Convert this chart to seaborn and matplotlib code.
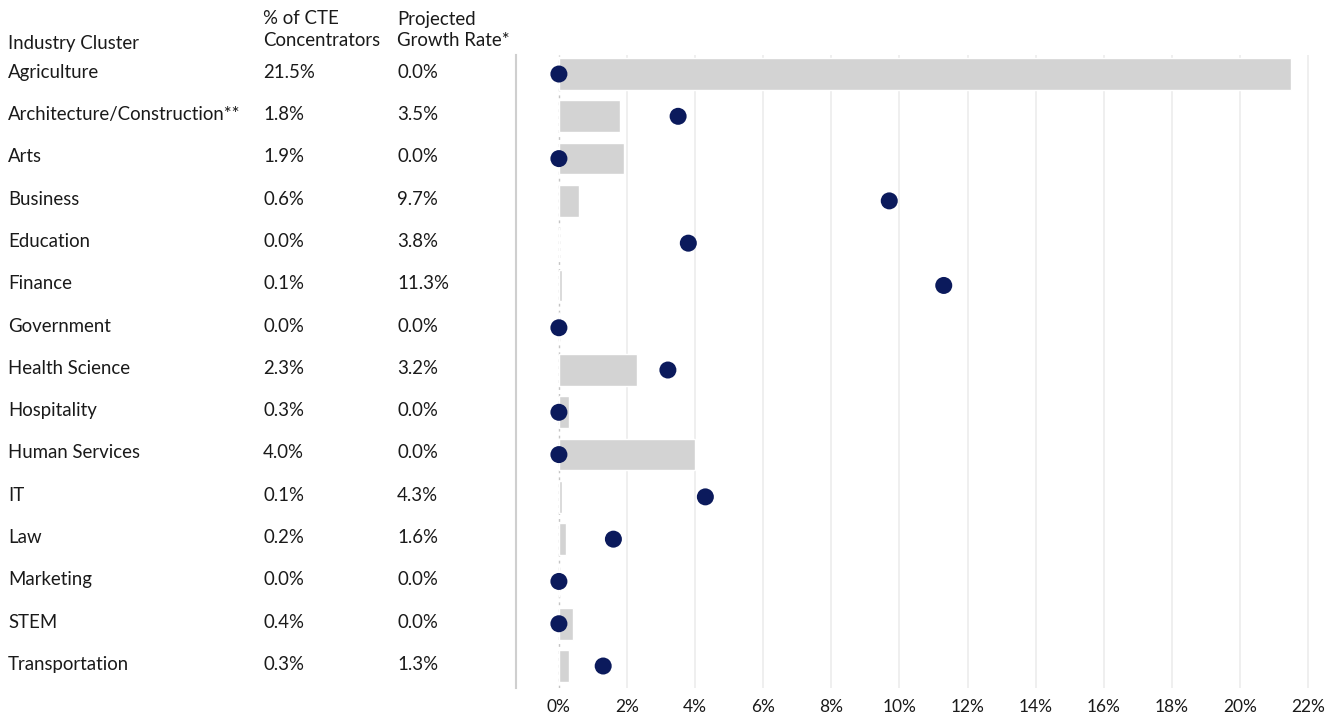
import matplotlib
matplotlib.use("Agg")
import matplotlib.pyplot as plt
import matplotlib.transforms as mtransforms
import seaborn as sns
import pandas as pd

clusters = ["Agriculture", "Architecture/Construction**", "Arts", "Business", "Education",
            "Finance", "Government", "Health Science", "Hospitality", "Human Services",
            "IT", "Law", "Marketing", "STEM", "Transportation"]
cte_share = [21.5, 1.8, 1.9, 0.6, 0.0, 0.1, 0.0, 2.3, 0.3, 4.0, 0.1, 0.2, 0.0, 0.4, 0.3]
growth_rate = [0.0, 3.5, 0.0, 9.7, 3.8, 11.3, 0.0, 3.2, 0.0, 0.0, 4.3, 1.6, 0.0, 0.0, 1.3]
x_ticks = [0, 2, 4, 6, 8, 10, 12, 14, 16, 18, 20, 22]

df = pd.DataFrame({"cluster": clusters, "cte": cte_share, "growth": growth_rate})

sns.set_theme(style="white")
plt.rcParams["font.family"] = ["Lato", "DejaVu Sans"]

W, H = 1332, 717
fig = plt.figure(figsize=(W / 100, H / 100), dpi=100)
ax = fig.add_axes([516 / W, (H - 688) / H, (1332 - 516) / W, (688 - 55) / H])

# light vertical gridlines behind the marks
for t in x_ticks[1:]:
    ax.axvline(t, color="#ececec", lw=1.2, zorder=0)
ax.axvline(0, color="#c4c4c4", lw=1.0, ls=(0, (2, 3)), zorder=0.5)

sns.barplot(data=df, x="cte", y="cluster", orient="h", color="#d3d3d3",
            width=0.75, saturation=1, ax=ax, zorder=1)
sns.scatterplot(data=df, x="growth", y="cluster", color="#0b1a5c", s=150,
                edgecolor="none", ax=ax, zorder=3)

ax.set_xlim(-1.26, 22.7)
ax.set_ylim(14.52, -0.45)
ax.set_xticks(x_ticks)
ax.set_xticklabels([f"{t}%" for t in x_ticks], fontsize=12.5, color="#1a1a1a")
ax.tick_params(axis="x", length=0, pad=8)
ax.set_yticks([])
ax.set_xlabel("")
ax.set_ylabel("")
for side in ["top", "right", "bottom"]:
    ax.spines[side].set_visible(False)
ax.spines["left"].set_color("#cfcfcf")
ax.spines["left"].set_linewidth(1.5)

# table columns to the left of the plot
fs = 13.4
trans = mtransforms.blended_transform_factory(fig.transFigure, ax.transData)
col_x = [8 / W, 263 / W, 397 / W]
for i, (name, c, g) in enumerate(zip(clusters, cte_share, growth_rate)):
    y = i - 0.04
    ax.text(col_x[0], y, name, transform=trans, fontsize=fs, va="center", ha="left",
            color="#1a1a1a", clip_on=False)
    ax.text(col_x[1], y, f"{c:.1f}%", transform=trans, fontsize=fs, va="center", ha="left",
            color="#1a1a1a", clip_on=False)
    ax.text(col_x[2], y, f"{g:.1f}%", transform=trans, fontsize=fs, va="center", ha="left",
            color="#1a1a1a", clip_on=False)

fig.text(8 / W, 1 - 43 / H, "Industry Cluster", fontsize=fs, va="center", ha="left", color="#1a1a1a")
fig.text(263 / W, 1 - 19 / H, "% of CTE", fontsize=fs, va="center", ha="left", color="#1a1a1a")
fig.text(263 / W, 1 - 41 / H, "Concentrators", fontsize=fs, va="center", ha="left", color="#1a1a1a")
fig.text(397 / W, 1 - 19 / H, "Projected", fontsize=fs, va="center", ha="left", color="#1a1a1a")
fig.text(397 / W, 1 - 41 / H, "Growth Rate*", fontsize=fs, va="center", ha="left", color="#1a1a1a")

fig.savefig("out.png", dpi=100, facecolor="white")
